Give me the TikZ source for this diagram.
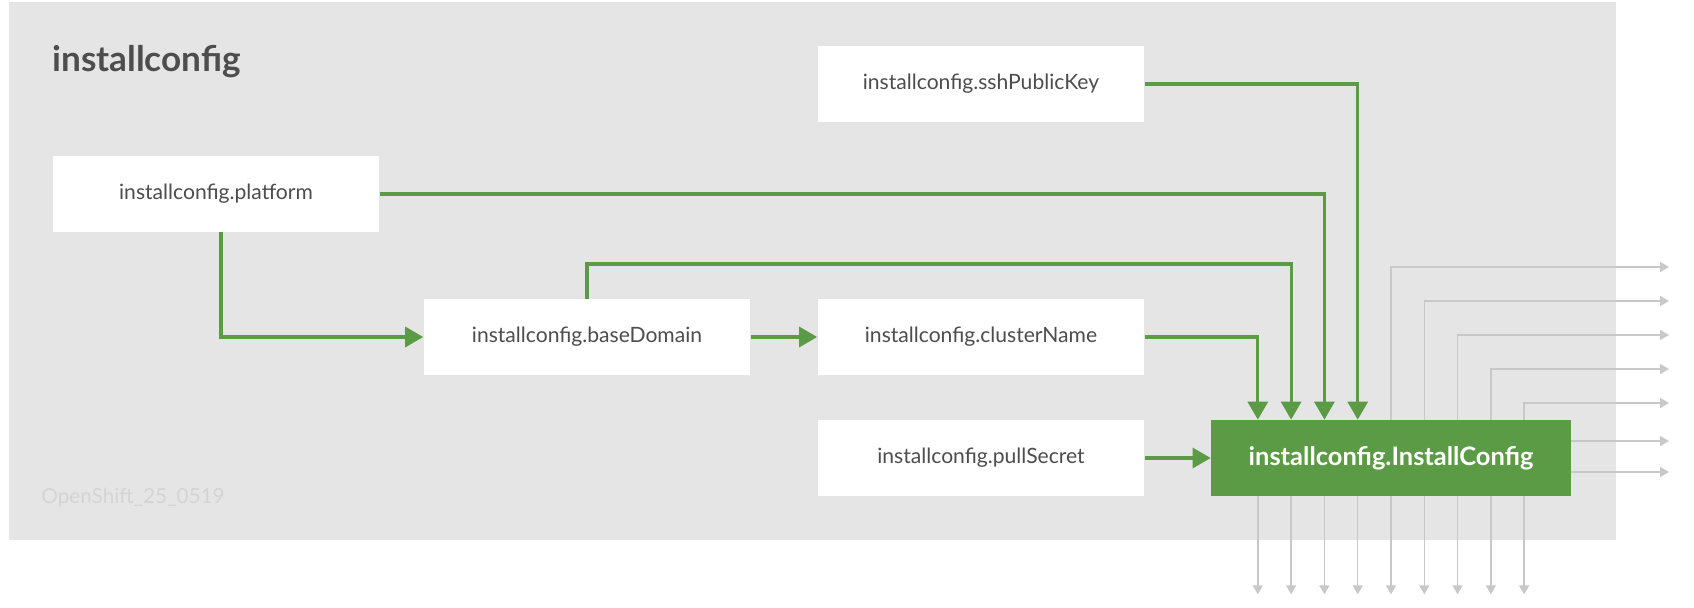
\documentclass[tikz,border=0pt]{standalone}
\usepackage{fontspec}
\setmainfont{Lato}
\usepackage{xcolor}
\usetikzlibrary{arrows.meta, positioning}
\definecolor{bggray}{RGB}{229, 229, 229}
\definecolor{flowgreen}{RGB}{92, 155, 69}
\definecolor{textgray}{RGB}{77, 77, 77}
\definecolor{outgray}{RGB}{200, 200, 200}
\definecolor{markgray}{RGB}{212, 212, 212}

\tikzset{
  cfgbox/.style={fill=white, minimum width=6.54cm, minimum height=1.52cm,
                 text=textgray, font=\fontsize{12}{14}\selectfont},
  mainbox/.style={fill=flowgreen, minimum width=7.2cm, minimum height=1.52cm,
                  text=white, font=\bfseries\fontsize{14.5}{17}\selectfont},
  flow/.style={draw=flowgreen, line width=1.8pt,
               -{Triangle[length=0.36cm, width=0.4cm]}},
  outflow/.style={draw=outgray, line width=0.85pt,
                  -{Triangle[length=0.18cm, width=0.2cm]}}
}

\begin{document}
\begin{tikzpicture}[x=0.02cm, y=-0.02cm]
  \useasboundingbox (0,0) rectangle (1694,608);
  \fill[bggray] (9,2) rectangle (1616,540);

  % titles
  \node[anchor=west, text=textgray, font=\bfseries\fontsize{20}{24}\selectfont,
        inner sep=0pt] (title) at (52,62) {installconfig};
  \node[anchor=west, text=markgray, font=\fontsize{11.8}{14}\selectfont,
        inner sep=0pt] (watermark) at (41,498) {OpenShift\_25\_0519};

  % config nodes
  \node[cfgbox] (platform) at (216,194) {installconfig.platform};
  \node[cfgbox] (sshkey) at (981,84) {installconfig.sshPublicKey};
  \node[cfgbox] (basedomain) at (587,337) {installconfig.baseDomain};
  \node[cfgbox] (clustername) at (981,337) {installconfig.clusterName};
  \node[cfgbox] (pullsecret) at (981,458) {installconfig.pullSecret};
  \node[mainbox] (installcfg) at (1391,458) {installconfig.InstallConfig};

  % outputs
  \foreach \i in {0,...,4} {
    \coordinate (outtop\i) at (1669,267+34*\i);
    \draw[outflow] ([xshift=\i*0.666cm]installcfg.north) |- (outtop\i);
  }
  \coordinate (outr0) at (1669,441);
  \coordinate (outr1) at (1669,472);
  \draw[outflow] (installcfg.east |- outr0) -- (outr0);
  \draw[outflow] (installcfg.east |- outr1) -- (outr1);
  \foreach \i in {-4,...,4}
    \draw[outflow] ([xshift=\i*0.666cm]installcfg.south) -- ++(0,98);

  % inputs
  \coordinate (bdup) at (587,264);
  \draw[flow] ([xshift=0.1cm]platform.south) |- (basedomain.west);
  \draw[flow] (basedomain) -- (clustername);
  \draw[flow] (pullsecret) -- (installcfg);
  \draw[flow] (clustername.east) -| ([xshift=-2.664cm]installcfg.north);
  \draw[flow] (basedomain.north) -- (bdup) -| ([xshift=-1.998cm]installcfg.north);
  \draw[flow] (platform.east) -| ([xshift=-1.332cm]installcfg.north);
  \draw[flow] (sshkey.east) -| ([xshift=-0.666cm]installcfg.north);
\end{tikzpicture}
\end{document}
